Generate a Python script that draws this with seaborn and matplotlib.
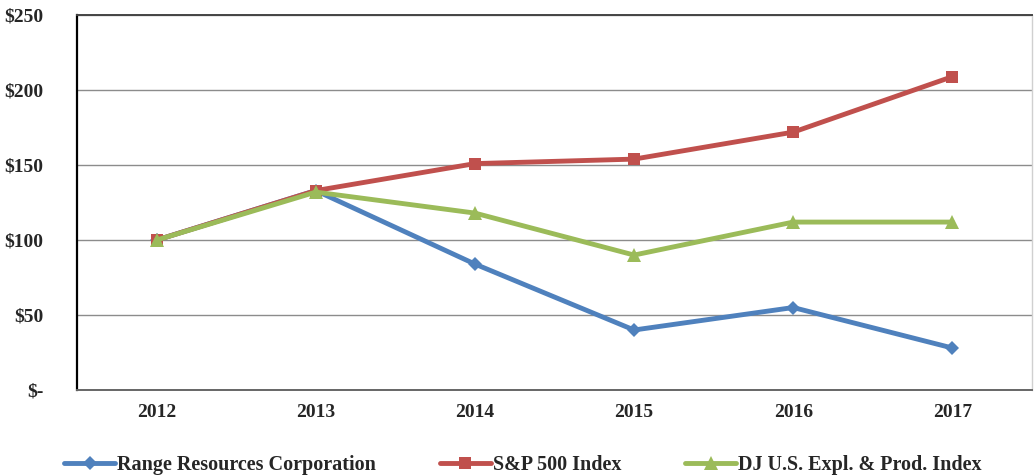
import matplotlib
matplotlib.use("Agg")
import matplotlib.pyplot as plt
import seaborn as sns
import pandas as pd
from matplotlib.ticker import FuncFormatter

years = ["2012", "2013", "2014", "2015", "2016", "2017"]
range_res = [100, 133, 84, 40, 55, 28]
sp500 = [100, 133, 151, 154, 172, 209]
dj_expl = [100, 132, 118, 90, 112, 112]
series_names = ["Range Resources Corporation", "S&P 500 Index", "DJ U.S. Expl. & Prod. Index"]
y_ticks = [0, 50, 100, 150, 200, 250]

sns.set_theme(style="white")
plt.rcParams["font.family"] = ["Liberation Serif", "DejaVu Serif"]
plt.rcParams["font.weight"] = "bold"

rows = []
for name, vals in zip(series_names, [range_res, sp500, dj_expl]):
    for y, v in zip(years, vals):
        rows.append({"Year": y, "Value": v, "Series": name})
df = pd.DataFrame(rows)

colors = {series_names[0]: "#4F81BD", series_names[1]: "#C0504D", series_names[2]: "#9BBB59"}
markers = {series_names[0]: "D", series_names[1]: "s", series_names[2]: "^"}
msizes = {series_names[0]: 7, series_names[1]: 9, series_names[2]: 10}

fig = plt.figure(figsize=(10.34, 4.75), dpi=100)
ax = fig.add_axes([0.0745, 0.179, 0.9235, 0.789])

for name in series_names:
    sub = df[df["Series"] == name]
    sns.lineplot(data=sub, x="Year", y="Value", ax=ax, color=colors[name],
                 marker=markers[name], markersize=msizes[name], markeredgewidth=0,
                 linewidth=3.5, label=name, sort=False)

ax.set_xlim(-0.5, 5.5)
ax.set_ylim(0, 250)
ax.set_yticks(y_ticks)
ax.yaxis.set_major_formatter(FuncFormatter(lambda v, p: "$-" if v == 0 else f"${int(v)}"))
ax.grid(axis="y", color="#8c8c8c", linewidth=1)
ax.set_axisbelow(True)
ax.spines["left"].set_color("black")
ax.spines["left"].set_linewidth(1.6)
ax.spines["top"].set_color("#444444")
ax.spines["top"].set_linewidth(1.4)
ax.spines["bottom"].set_color("#666666")
ax.spines["bottom"].set_linewidth(1.4)
ax.spines["right"].set_color("#d0d0d0")
ax.spines["right"].set_linewidth(1.0)
ax.set_xlabel("")
ax.set_ylabel("")
ax.tick_params(axis="both", labelsize=14, length=0)
ax.tick_params(axis="y", pad=24)
ax.tick_params(axis="x", pad=10)
for lbl in ax.get_xticklabels() + ax.get_yticklabels():
    lbl.set_fontweight("bold")

leg = ax.legend(loc="upper center", bbox_to_anchor=(0.467, -0.125), ncol=3, frameon=False,
                prop={"size": 14.5, "weight": "bold"}, handlelength=2.5, columnspacing=3.2,
                handletextpad=0.1)

fig.savefig("out.png", dpi=100)
